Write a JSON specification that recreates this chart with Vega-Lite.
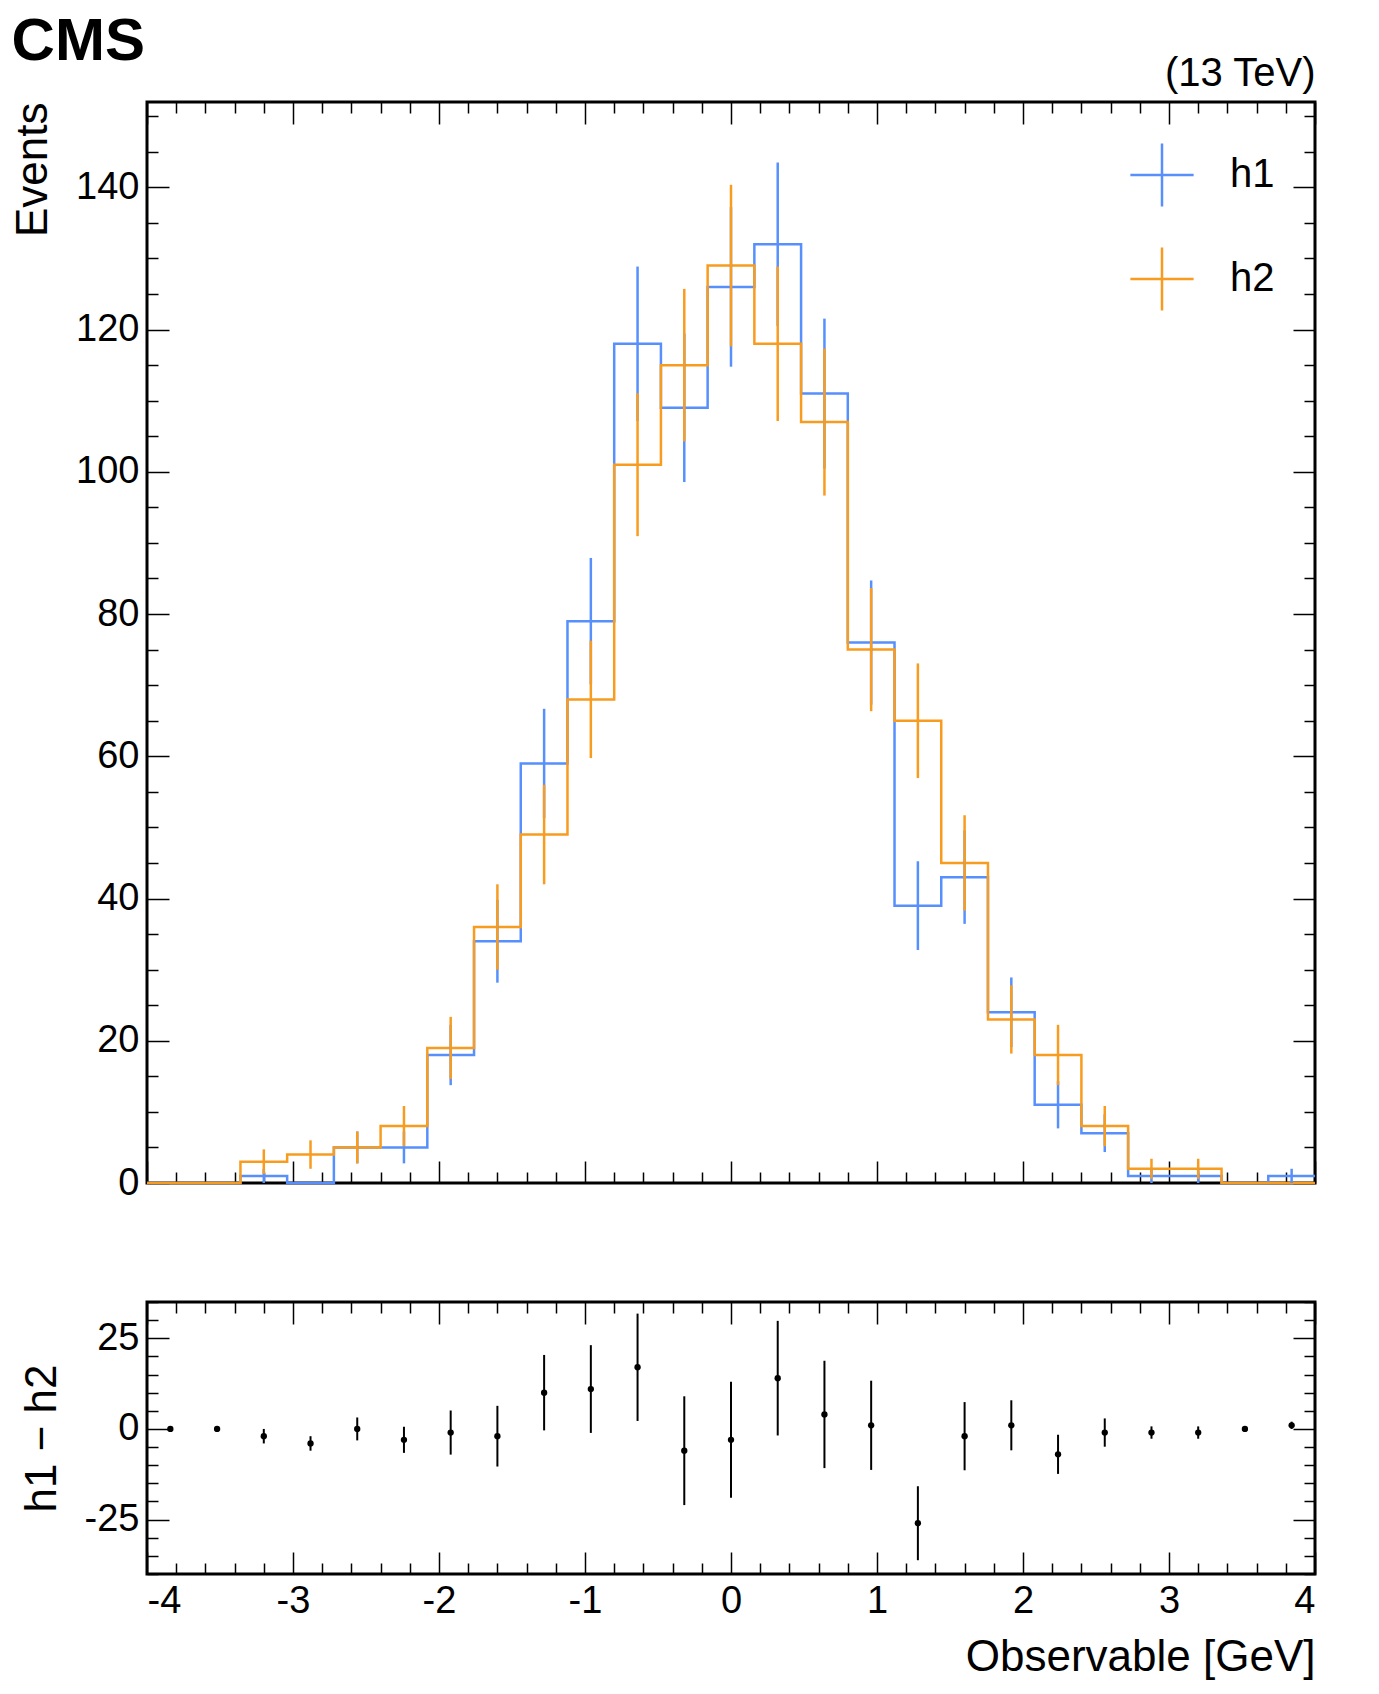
{
  "$schema": "https://vega.github.io/schema/vega-lite/v6.json",
  "background": "white",
  "padding": {"left": 10, "top": 10, "right": 30, "bottom": 40},
  "config": {
    "font": "Liberation Sans",
    "view": {"stroke": "black", "strokeWidth": 3},
    "axis": {"domain": false, "grid": false, "tickColor": "black", "tickWidth": 1.5, "labelFontSize": 38, "labelColor": "black", "titleFontSize": 44, "titleFontWeight": "normal", "titleColor": "black"},
    "legend": {"labelFontSize": 40}
  },
  "datasets": {
    "edges": [
      {"x": -4, "h1": 0, "h2": 0}, {"x": -3.68, "h1": 0, "h2": 0}, {"x": -3.36, "h1": 1, "h2": 3},
      {"x": -3.04, "h1": 0, "h2": 4}, {"x": -2.72, "h1": 5, "h2": 5}, {"x": -2.4, "h1": 5, "h2": 8},
      {"x": -2.08, "h1": 18, "h2": 19}, {"x": -1.76, "h1": 34, "h2": 36}, {"x": -1.44, "h1": 59, "h2": 49},
      {"x": -1.12, "h1": 79, "h2": 68}, {"x": -0.8, "h1": 118, "h2": 101}, {"x": -0.48, "h1": 109, "h2": 115},
      {"x": -0.16, "h1": 126, "h2": 129}, {"x": 0.16, "h1": 132, "h2": 118}, {"x": 0.48, "h1": 111, "h2": 107},
      {"x": 0.8, "h1": 76, "h2": 75}, {"x": 1.12, "h1": 39, "h2": 65}, {"x": 1.44, "h1": 43, "h2": 45},
      {"x": 1.76, "h1": 24, "h2": 23}, {"x": 2.08, "h1": 11, "h2": 18}, {"x": 2.4, "h1": 7, "h2": 8},
      {"x": 2.72, "h1": 1, "h2": 2}, {"x": 3.04, "h1": 1, "h2": 2}, {"x": 3.36, "h1": 0, "h2": 0},
      {"x": 3.68, "h1": 1, "h2": 0}, {"x": 4, "h1": 1, "h2": 0}
    ],
    "bins": [
      {"c": -3.84, "h1lo": 0, "h1hi": 0, "h2lo": 0, "h2hi": 0, "d": 0, "dlo": 0, "dhi": 0},
      {"c": -3.52, "h1lo": 0, "h1hi": 0, "h2lo": 0, "h2hi": 0, "d": 0, "dlo": 0, "dhi": 0},
      {"c": -3.2, "h1lo": 0, "h1hi": 2, "h2lo": 1.27, "h2hi": 4.73, "d": -2, "dlo": -4, "dhi": 0},
      {"c": -2.88, "h1lo": 0, "h1hi": 0, "h2lo": 2, "h2hi": 6, "d": -4, "dlo": -6, "dhi": -2},
      {"c": -2.56, "h1lo": 2.76, "h1hi": 7.24, "h2lo": 2.76, "h2hi": 7.24, "d": 0, "dlo": -3.16, "dhi": 3.16},
      {"c": -2.24, "h1lo": 2.76, "h1hi": 7.24, "h2lo": 5.17, "h2hi": 10.83, "d": -3, "dlo": -6.6, "dhi": 0.6},
      {"c": -1.92, "h1lo": 13.76, "h1hi": 22.24, "h2lo": 14.64, "h2hi": 23.36, "d": -1, "dlo": -7.08, "dhi": 5.08},
      {"c": -1.6, "h1lo": 28.17, "h1hi": 39.83, "h2lo": 30, "h2hi": 42, "d": -2, "dlo": -10.37, "dhi": 6.37},
      {"c": -1.28, "h1lo": 51.32, "h1hi": 66.68, "h2lo": 42, "h2hi": 56, "d": 10, "dlo": -0.4, "dhi": 20.4},
      {"c": -0.96, "h1lo": 70.11, "h1hi": 87.89, "h2lo": 59.75, "h2hi": 76.25, "d": 11, "dlo": -1.1, "dhi": 23.1},
      {"c": -0.64, "h1lo": 107.14, "h1hi": 128.86, "h2lo": 90.95, "h2hi": 111.05, "d": 17, "dlo": 2.2, "dhi": 31.8},
      {"c": -0.32, "h1lo": 98.56, "h1hi": 119.44, "h2lo": 104.28, "h2hi": 125.72, "d": -6, "dlo": -21, "dhi": 9},
      {"c": 0, "h1lo": 114.78, "h1hi": 137.22, "h2lo": 117.64, "h2hi": 140.36, "d": -3, "dlo": -19, "dhi": 13},
      {"c": 0.32, "h1lo": 120.51, "h1hi": 143.49, "h2lo": 107.14, "h2hi": 128.86, "d": 14, "dlo": -1.8, "dhi": 29.8},
      {"c": 0.64, "h1lo": 100.46, "h1hi": 121.54, "h2lo": 96.66, "h2hi": 117.34, "d": 4, "dlo": -10.8, "dhi": 18.8},
      {"c": 0.96, "h1lo": 67.28, "h1hi": 84.72, "h2lo": 66.34, "h2hi": 83.66, "d": 1, "dlo": -11.3, "dhi": 13.3},
      {"c": 1.28, "h1lo": 32.76, "h1hi": 45.24, "h2lo": 56.94, "h2hi": 73.06, "d": -26, "dlo": -36.2, "dhi": -15.8},
      {"c": 1.6, "h1lo": 36.44, "h1hi": 49.56, "h2lo": 38.29, "h2hi": 51.71, "d": -2, "dlo": -11.4, "dhi": 7.4},
      {"c": 1.92, "h1lo": 19.1, "h1hi": 28.9, "h2lo": 18.2, "h2hi": 27.8, "d": 1, "dlo": -5.9, "dhi": 7.9},
      {"c": 2.24, "h1lo": 7.68, "h1hi": 14.32, "h2lo": 13.76, "h2hi": 22.24, "d": -7, "dlo": -12.4, "dhi": -1.6},
      {"c": 2.56, "h1lo": 4.35, "h1hi": 9.65, "h2lo": 5.17, "h2hi": 10.83, "d": -1, "dlo": -4.9, "dhi": 2.9},
      {"c": 2.88, "h1lo": 0, "h1hi": 2, "h2lo": 0.59, "h2hi": 3.41, "d": -1, "dlo": -2.7, "dhi": 0.7},
      {"c": 3.2, "h1lo": 0, "h1hi": 2, "h2lo": 0.59, "h2hi": 3.41, "d": -1, "dlo": -2.7, "dhi": 0.7},
      {"c": 3.52, "h1lo": 0, "h1hi": 0, "h2lo": 0, "h2hi": 0, "d": 0, "dlo": 0, "dhi": 0},
      {"c": 3.84, "h1lo": 0, "h1hi": 2, "h2lo": 0, "h2hi": 0, "d": 1, "dlo": 0, "dhi": 2}
    ]
  },
  "spacing": 95,
  "vconcat": [
    {
      "width": 1168,
      "height": 1081,
      "title": {"text": "CMS", "anchor": "start", "fontSize": 60, "fontWeight": "bold", "font": "Liberation Sans", "offset": -20, "color": "black"},
      "resolve": {"axis": {"x": "independent", "y": "independent"}},
      "layer": [
        {
          "data": {"name": "edges"},
          "transform": [{"fold": ["h1", "h2"], "as": ["series", "n"]}],
          "mark": {"type": "line", "interpolate": "step-after", "strokeWidth": 2.5},
          "encoding": {
            "x": {"field": "x", "type": "quantitative", "scale": {"domain": [-4, 4], "nice": false},
              "axis": {"orient": "bottom", "values": [-4,-3.8,-3.6,-3.4,-3.2,-3,-2.8,-2.6,-2.4,-2.2,-2,-1.8,-1.6,-1.4,-1.2,-1,-0.8,-0.6,-0.4,-0.2,0,0.2,0.4,0.6,0.8,1,1.2,1.4,1.6,1.8,2,2.2,2.4,2.6,2.8,3,3.2,3.4,3.6,3.8,4], "labels": false, "title": null,
                "tickSize": {"condition": {"test": "abs(datum.value - round(datum.value)) < 0.01", "value": -22}, "value": -11}}},
            "y": {"field": "n", "type": "quantitative", "scale": {"domain": [0, 152], "nice": false},
              "axis": {"orient": "left", "values": [0,5,10,15,20,25,30,35,40,45,50,55,60,65,70,75,80,85,90,95,100,105,110,115,120,125,130,135,140,145,150], "labelExpr": "datum.value % 20 === 0 ? format(datum.value, 'd') : ''", "labelPadding": 30, "title": "Events", "titleAnchor": "end", "titlePadding": 20,
                "tickSize": {"condition": {"test": "datum.value % 20 === 0", "value": -22}, "value": -11}}},
            "color": {"field": "series", "type": "nominal", "scale": {"domain": ["h1", "h2"], "range": ["#5790fc", "#f89c20"]},
              "legend": {"orient": "top-right", "title": null, "offset": 40, "symbolType": "M-1,0H1M0,-1V1", "symbolSize": 4000, "symbolStrokeWidth": 2.5, "symbolFillColor": "transparent", "labelOffset": 35, "rowPadding": 30}}
          }
        },
        {
          "data": {"name": "bins"},
          "mark": {"type": "rule", "color": "#5790fc", "strokeWidth": 2.5},
          "encoding": {"x": {"field": "c", "type": "quantitative", "axis": null}, "y": {"field": "h1lo", "type": "quantitative", "axis": null}, "y2": {"field": "h1hi"}}
        },
        {
          "data": {"name": "bins"},
          "mark": {"type": "rule", "color": "#f89c20", "strokeWidth": 2.5},
          "encoding": {
            "x": {"field": "c", "type": "quantitative",
              "axis": {"orient": "top", "values": [-4,-3.8,-3.6,-3.4,-3.2,-3,-2.8,-2.6,-2.4,-2.2,-2,-1.8,-1.6,-1.4,-1.2,-1,-0.8,-0.6,-0.4,-0.2,0,0.2,0.4,0.6,0.8,1,1.2,1.4,1.6,1.8,2,2.2,2.4,2.6,2.8,3,3.2,3.4,3.6,3.8,4], "labels": false, "title": "(13 TeV)", "titleAnchor": "end", "titleFontSize": 40, "titlePadding": 8,
                "tickSize": {"condition": {"test": "abs(datum.value - round(datum.value)) < 0.01", "value": -22}, "value": -11}}},
            "y": {"field": "h2lo", "type": "quantitative",
              "axis": {"orient": "right", "values": [0,5,10,15,20,25,30,35,40,45,50,55,60,65,70,75,80,85,90,95,100,105,110,115,120,125,130,135,140,145,150], "labels": false, "title": null,
                "tickSize": {"condition": {"test": "datum.value % 20 === 0", "value": -22}, "value": -11}}},
            "y2": {"field": "h2hi"}
          }
        }
      ]
    },
    {
      "width": 1168,
      "height": 272,
      "resolve": {"axis": {"x": "independent", "y": "independent"}},
      "layer": [
        {
          "data": {"name": "bins"},
          "mark": {"type": "rule", "color": "black", "strokeWidth": 2},
          "encoding": {
            "x": {"field": "c", "type": "quantitative", "scale": {"domain": [-4, 4], "nice": false},
              "axis": {"orient": "bottom", "values": [-4,-3.8,-3.6,-3.4,-3.2,-3,-2.8,-2.6,-2.4,-2.2,-2,-1.8,-1.6,-1.4,-1.2,-1,-0.8,-0.6,-0.4,-0.2,0,0.2,0.4,0.6,0.8,1,1.2,1.4,1.6,1.8,2,2.2,2.4,2.6,2.8,3,3.2,3.4,3.6,3.8,4], "labelExpr": "abs(datum.value - round(datum.value)) < 0.01 ? replace(format(datum.value, 'd'), '−', '-') : ''", "labelPadding": 30, "title": "Observable [GeV]", "titleAnchor": "end", "titlePadding": 15,
                "tickSize": {"condition": {"test": "abs(datum.value - round(datum.value)) < 0.01", "value": -22}, "value": -11}}},
            "y": {"field": "dlo", "type": "quantitative", "scale": {"domain": [-40, 35], "nice": false},
              "axis": {"orient": "left", "values": [-40,-35,-30,-25,-20,-15,-10,-5,0,5,10,15,20,25,30,35], "labelExpr": "datum.value % 25 === 0 ? replace(format(datum.value, 'd'), '−', '-') : ''", "labelPadding": 30, "title": "h1 − h2", "titlePadding": 20,
                "tickSize": {"condition": {"test": "datum.value % 25 === 0", "value": -22}, "value": -11}}},
            "y2": {"field": "dhi"}
          }
        },
        {
          "mark": {"type": "rule", "color": "black", "strokeDash": [6, 4], "strokeWidth": 1.5},
          "encoding": {"y": {"datum": 0, "axis": null}}
        },
        {
          "data": {"name": "bins"},
          "mark": {"type": "point", "filled": true, "color": "black", "size": 40, "opacity": 1},
          "encoding": {
            "x": {"field": "c", "type": "quantitative",
              "axis": {"orient": "top", "values": [-4,-3.8,-3.6,-3.4,-3.2,-3,-2.8,-2.6,-2.4,-2.2,-2,-1.8,-1.6,-1.4,-1.2,-1,-0.8,-0.6,-0.4,-0.2,0,0.2,0.4,0.6,0.8,1,1.2,1.4,1.6,1.8,2,2.2,2.4,2.6,2.8,3,3.2,3.4,3.6,3.8,4], "labels": false, "title": null,
                "tickSize": {"condition": {"test": "abs(datum.value - round(datum.value)) < 0.01", "value": -22}, "value": -11}}},
            "y": {"field": "d", "type": "quantitative",
              "axis": {"orient": "right", "values": [-40,-35,-30,-25,-20,-15,-10,-5,0,5,10,15,20,25,30,35], "labels": false, "title": null,
                "tickSize": {"condition": {"test": "datum.value % 25 === 0", "value": -22}, "value": -11}}}
          }
        }
      ]
    }
  ]
}
